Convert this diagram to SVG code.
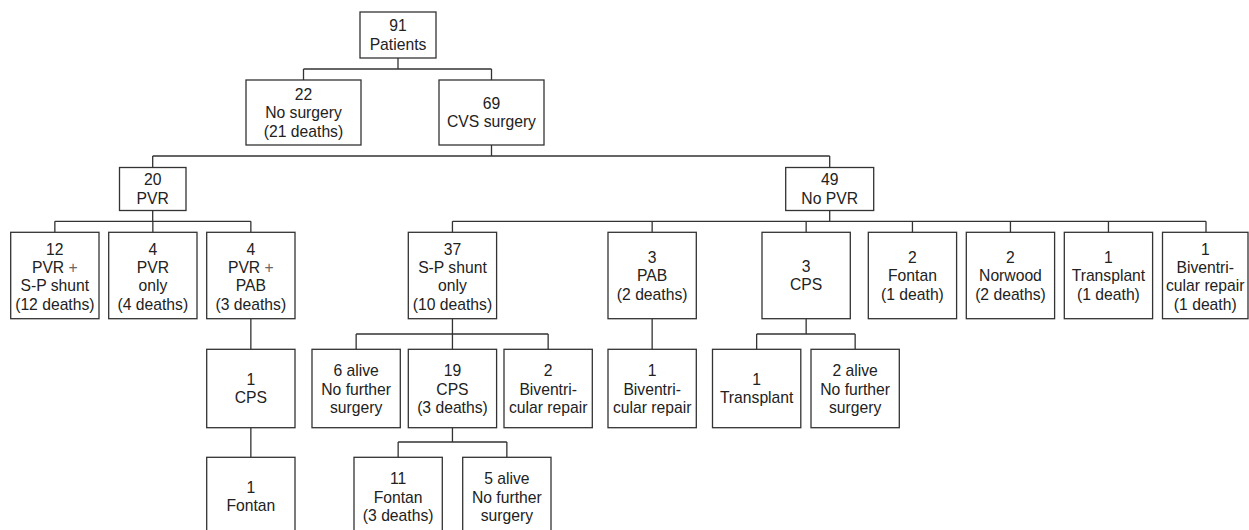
<svg xmlns="http://www.w3.org/2000/svg" width="1249" height="530" viewBox="0 0 1249 530">
<style>
.box{fill:#fff;stroke:#333;stroke-width:1.3}
.con{fill:none;stroke:#333;stroke-width:1.3}
text{font-family:"Liberation Sans",Arial,sans-serif;font-size:15.7px;fill:#222;text-anchor:middle}
.plus{fill:#666}
</style>
<rect width="1249" height="530" fill="#fff"/>
<g id="connectors" class="con">
<path d="M398,58V69M303.5,69H491.5M303.5,69V80M491.5,69V80"/>
<path d="M491.5,145V156M152.7,156H829.7M152.7,156V167.5M829.7,156V167.5"/>
<path d="M152.7,210.5V221.3M54.85,221.3H250.85M54.85,221.3V232.3M152.85,221.3V232.3M250.85,221.3V232.3"/>
<path d="M829.7,210.5V221.3M452.45,221.3H1206M452.45,221.3V232.3M652.15,221.3V232.3M806.15,221.3V232.3M912.45,221.3V232.3M1010.45,221.3V232.3M1108.45,221.3V232.3M1206,221.3V232.3"/>
<path d="M250.85,318.7V349.3M452.45,318.7V334M356.15,334H548.15M356.15,334V349.3M452.45,334V349.3M548.15,334V349.3"/>
<path d="M652.15,318.7V349.3M806.15,318.7V334M756.65,334H855.15M756.65,334V349.3M855.15,334V349.3"/>
<path d="M250.85,427.7V457.3M452.45,427.7V442M398.15,442H506.85M398.15,442V457.3M506.85,442V457.3"/>
</g>
<g id="n_root"><rect class="box" x="360" y="12" width="76" height="46"/><text x="398" y="31.4">91</text><text x="398" y="49.8">Patients</text></g>
<g id="n_nosurgery"><rect class="box" x="246" y="80" width="115" height="65"/><text x="303.5" y="99.7">22</text><text x="303.5" y="118.1">No surgery</text><text x="303.5" y="136.5">(21 deaths)</text></g>
<g id="n_cvs"><rect class="box" x="439" y="80" width="105" height="65"/><text x="491.5" y="108.9">69</text><text x="491.5" y="127.3">CVS surgery</text></g>
<g id="n_pvr"><rect class="box" x="119.5" y="167.5" width="66.5" height="43"/><text x="152.7" y="185.4">20</text><text x="152.7" y="203.8">PVR</text></g>
<g id="n_nopvr"><rect class="box" x="785.7" y="167.5" width="88" height="43"/><text x="829.7" y="185.4">49</text><text x="829.7" y="203.8">No PVR</text></g>

<g id="n_pvr_sp"><rect class="box" x="10.7" y="232.3" width="88.3" height="86.4"/><text x="54.85" y="254.5">12</text><text x="54.85" y="272.9">PVR <tspan class="plus">+</tspan></text><text x="54.85" y="291.3">S-P shunt</text><text x="54.85" y="309.7">(12 deaths)</text></g>
<g id="n_pvr_only"><rect class="box" x="108.7" y="232.3" width="88.3" height="86.4"/><text x="152.85" y="254.5">4</text><text x="152.85" y="272.9">PVR</text><text x="152.85" y="291.3">only</text><text x="152.85" y="309.7">(4 deaths)</text></g>
<g id="n_pvr_pab"><rect class="box" x="206.7" y="232.3" width="88.3" height="86.4"/><text x="250.85" y="254.5">4</text><text x="250.85" y="272.9">PVR <tspan class="plus">+</tspan></text><text x="250.85" y="291.3">PAB</text><text x="250.85" y="309.7">(3 deaths)</text></g>
<g id="n_sp_only"><rect class="box" x="408.3" y="232.3" width="88.3" height="86.4"/><text x="452.45" y="254.5">37</text><text x="452.45" y="272.9">S-P shunt</text><text x="452.45" y="291.3">only</text><text x="452.45" y="309.7">(10 deaths)</text></g>
<g id="n_pab"><rect class="box" x="608" y="232.3" width="88.3" height="86.4"/><text x="652.15" y="262.7">3</text><text x="652.15" y="281.1">PAB</text><text x="652.15" y="299.5">(2 deaths)</text></g>
<g id="n_cps"><rect class="box" x="762" y="232.3" width="88.3" height="86.4"/><text x="806.15" y="271.9">3</text><text x="806.15" y="290.3">CPS</text></g>
<g id="n_fontan"><rect class="box" x="868.3" y="232.3" width="88.3" height="86.4"/><text x="912.45" y="262.7">2</text><text x="912.45" y="281.1">Fontan</text><text x="912.45" y="299.5">(1 death)</text></g>
<g id="n_norwood"><rect class="box" x="966.3" y="232.3" width="88.3" height="86.4"/><text x="1010.45" y="262.7">2</text><text x="1010.45" y="281.1">Norwood</text><text x="1010.45" y="299.5">(2 deaths)</text></g>
<g id="n_transplant"><rect class="box" x="1064.3" y="232.3" width="88.3" height="86.4"/><text x="1108.45" y="262.7">1</text><text x="1108.45" y="281.1">Transplant</text><text x="1108.45" y="299.5">(1 death)</text></g>
<g id="n_biv"><rect class="box" x="1162.5" y="232.3" width="85.5" height="86.4"/><text x="1205.25" y="254.5">1</text><text x="1205.25" y="272.9">Biventri-</text><text x="1205.25" y="291.3">cular repair</text><text x="1205.25" y="309.7">(1 death)</text></g>

<g id="n_pvrpab_cps"><rect class="box" x="206.7" y="349.3" width="88.3" height="78.4"/><text x="250.85" y="384.9">1</text><text x="250.85" y="403.3">CPS</text></g>
<g id="n_6alive"><rect class="box" x="312" y="349.3" width="88.3" height="78.4"/><text x="356.15" y="376.1">6 alive</text><text x="356.15" y="394.5">No further</text><text x="356.15" y="412.9">surgery</text></g>
<g id="n_19cps"><rect class="box" x="408.3" y="349.3" width="88.3" height="78.4"/><text x="452.45" y="376.1">19</text><text x="452.45" y="394.5">CPS</text><text x="452.45" y="412.9">(3 deaths)</text></g>
<g id="n_2biv"><rect class="box" x="504" y="349.3" width="88.3" height="78.4"/><text x="548.15" y="376.1">2</text><text x="548.15" y="394.5">Biventri-</text><text x="548.15" y="412.9">cular repair</text></g>
<g id="n_pab_biv"><rect class="box" x="608" y="349.3" width="88.3" height="78.4"/><text x="652.15" y="376.1">1</text><text x="652.15" y="394.5">Biventri-</text><text x="652.15" y="412.9">cular repair</text></g>
<g id="n_cps_transplant"><rect class="box" x="712.5" y="349.3" width="88.3" height="78.4"/><text x="756.65" y="384.9">1</text><text x="756.65" y="403.3">Transplant</text></g>
<g id="n_2alive"><rect class="box" x="811" y="349.3" width="88.3" height="78.4"/><text x="855.15" y="376.1">2 alive</text><text x="855.15" y="394.5">No further</text><text x="855.15" y="412.9">surgery</text></g>

<g id="n_1fontan"><rect class="box" x="206.7" y="457.3" width="88.3" height="78.4"/><text x="250.85" y="492.9">1</text><text x="250.85" y="511.3">Fontan</text></g>
<g id="n_11fontan"><rect class="box" x="354" y="457.3" width="88.3" height="78.4"/><text x="398.15" y="484.1">11</text><text x="398.15" y="502.5">Fontan</text><text x="398.15" y="520.9">(3 deaths)</text></g>
<g id="n_5alive"><rect class="box" x="462.7" y="457.3" width="88.3" height="78.4"/><text x="506.85" y="484.1">5 alive</text><text x="506.85" y="502.5">No further</text><text x="506.85" y="520.9">surgery</text></g>
</svg>
